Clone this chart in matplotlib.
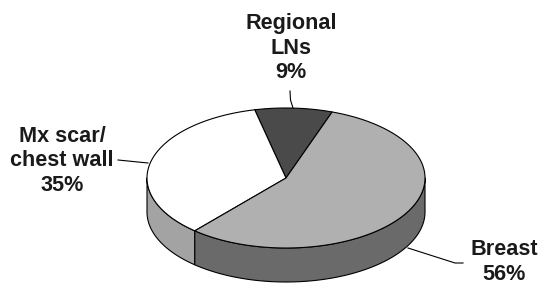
import numpy as np
import matplotlib
matplotlib.use("Agg")
import matplotlib.pyplot as plt
from matplotlib.patches import Polygon

categories = ["Regional\nLNs", "Mx scar/\nchest wall", "Breast"]
values = [9, 35, 56]
top_colors = ["#4a4a4a", "#ffffff", "#b0b0b0"]
side_colors = ["#3a3a3a", "#a3a3a3", "#6a6a6a"]

W, H = 541, 284
fig = plt.figure(figsize=(W / 100, H / 100), dpi=100)
ax = fig.add_axes([0, 0, 1, 1])
ax.set_xlim(0, W)
ax.set_ylim(H, 0)
ax.axis("off")

cx, cy, a, b, depth = 286, 178, 139, 70, 34
start = 70.6

def pt(t, dy=0.0):
    t = np.radians(t)
    return cx + a * np.cos(t), cy - b * np.sin(t) + dy

total = sum(values)
bounds = []
ang = start
for v in values:
    span = 360.0 * v / total
    bounds.append((ang, ang + span))
    ang += span

lw = 0.8
# sides (front half: 180..360 mod 360)
for (t1, t2), col in zip(bounds, side_colors):
    for off in (0, 360, -360):
        lo = max(t1, 180 + off)
        hi = min(t2, 360 + off)
        if hi > lo:
            ts = np.linspace(lo, hi, 80)
            top = [pt(t) for t in ts]
            bot = [pt(t, depth) for t in ts[::-1]]
            ax.add_patch(Polygon(top + bot, closed=True, facecolor=col,
                                 edgecolor="black", lw=lw, joinstyle="round"))

# top faces
for (t1, t2), col in zip(bounds, top_colors):
    ts = np.linspace(t1, t2, 200)
    verts = [(cx, cy)] + [pt(t) for t in ts]
    ax.add_patch(Polygon(verts, closed=True, facecolor=col,
                         edgecolor="black", lw=lw, joinstyle="round"))

font = dict(family=["Liberation Sans", "DejaVu Sans"], fontweight="bold",
            fontsize=15.6, color="#1a1a1a", ha="center", va="center",
            linespacing=1.22)

pcts = [f"{v}%" for v in values]
ax.text(291, 48, f"{categories[0]}\n{pcts[0]}", **font)
ax.text(62, 161, f"{categories[1]}\n{pcts[1]}", **font)
ax.text(504, 262, f"{categories[2]}\n{pcts[2]}", **font)

# leader lines
ax.plot([290, 290.5, 293], [91, 100, 108], color="black", lw=0.8)
ax.plot([118, 148], [160, 163], color="black", lw=0.8)
ax.plot([408, 455, 463], [248, 263, 263], color="black", lw=0.8)

fig.savefig("out.png", dpi=100)
